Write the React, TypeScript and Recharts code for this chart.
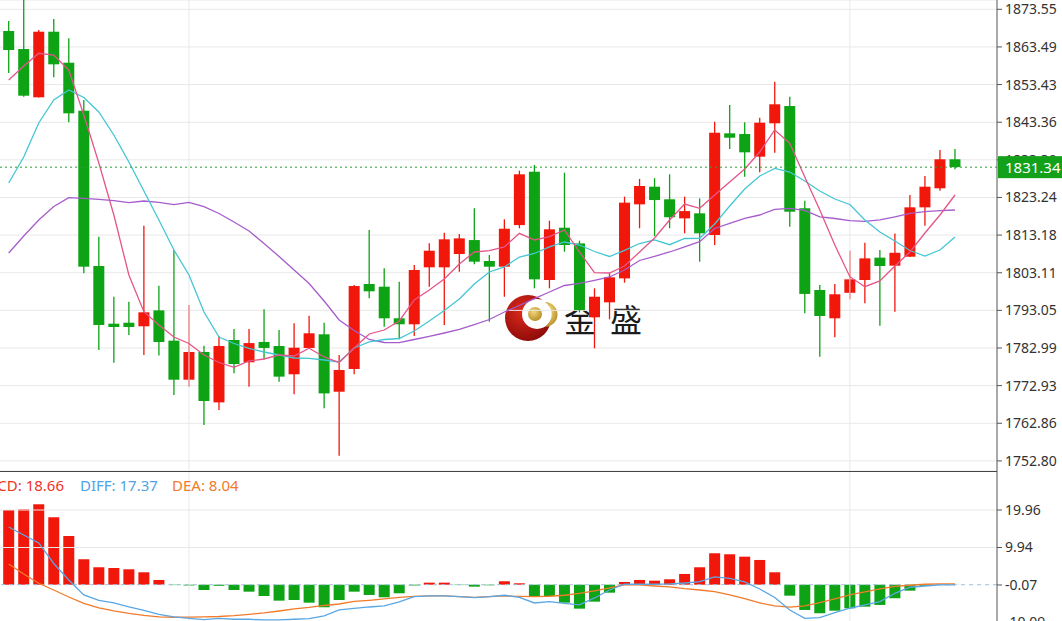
import React from "react";
import { ComposedChart, Bar, Line, XAxis, YAxis, CartesianGrid, ReferenceLine, Cell } from "recharts";

const RED = "#f2170b";
const GREEN = "#0da315";
const FONT = "'Noto Sans', 'DejaVu Sans', sans-serif";

// candles
const OPEN = [1867.75, 1862.93, 1850.02, 1867.56, 1859.27, 1846.44, 1804.91, 1789.49, 1789.75, 1788.79, 1793.05, 1784.95, 1774.51, 1781.92, 1768.45, 1785.13, 1779.17, 1784.6, 1783.52, 1775.96, 1783.0, 1786.65, 1771.3, 1777.38, 1800.1, 1799.38, 1790.93, 1789.33, 1804.56, 1804.56, 1808.12, 1811.85, 1806.25, 1804.73, 1815.85, 1830.12, 1801.17, 1815.15, 1810.95, 1791.2, 1795.2, 1801.6, 1821.4, 1826.12, 1822.75, 1817.65, 1819.0, 1813.2, 1840.39, 1840.2, 1834.15, 1843.07, 1847.69, 1820.35, 1798.5, 1790.93, 1797.75, 1801.17, 1807.15, 1805.0, 1807.4, 1820.6, 1825.69, 1833.45];
const HIGH = [1870.42, 1876.6, 1868.0, 1870.96, 1865.8, 1849.3, 1812.75, 1796.7, 1795.37, 1815.69, 1799.65, 1809.19, 1794.49, 1783.6, 1786.2, 1788.07, 1788.07, 1793.33, 1787.8, 1789.6, 1791.6, 1789.75, 1781.12, 1799.83, 1814.55, 1804.3, 1800.7, 1805.18, 1810.98, 1813.8, 1813.5, 1820.35, 1807.85, 1817.4, 1830.4, 1831.92, 1817.03, 1829.85, 1811.7, 1798.95, 1803.0, 1823.45, 1828.2, 1828.4, 1829.43, 1823.45, 1823.0, 1843.5, 1847.95, 1843.34, 1844.57, 1854.19, 1850.18, 1822.35, 1799.83, 1800.1, 1809.0, 1811.15, 1809.19, 1813.6, 1823.9, 1828.95, 1835.95, 1836.2];
const LOW = [1856.52, 1850.18, 1849.97, 1855.37, 1843.34, 1802.96, 1782.45, 1779.05, 1786.46, 1781.12, 1781.0, 1770.42, 1772.64, 1762.4, 1766.4, 1776.23, 1772.64, 1779.97, 1773.98, 1770.6, 1782.9, 1766.87, 1754.2, 1776.0, 1796.28, 1788.7, 1785.3, 1786.2, 1799.38, 1789.14, 1803.4, 1805.4, 1790.0, 1796.7, 1815.0, 1798.95, 1798.95, 1808.74, 1792.5, 1782.9, 1790.65, 1800.45, 1815.0, 1812.9, 1815.0, 1813.65, 1806.06, 1810.5, 1836.2, 1828.79, 1830.0, 1835.2, 1815.42, 1792.25, 1780.65, 1785.85, 1796.0, 1794.95, 1788.95, 1792.65, 1807.3, 1815.65, 1825.05, 1830.77];
const CLOSE = [1862.67, 1850.45, 1867.56, 1858.84, 1845.74, 1804.73, 1789.14, 1788.6, 1788.6, 1792.53, 1784.59, 1774.51, 1781.92, 1768.82, 1783.52, 1778.7, 1784.3, 1783.0, 1775.33, 1783.07, 1786.92, 1770.85, 1777.1, 1799.56, 1798.15, 1790.93, 1789.33, 1803.85, 1809.0, 1812.05, 1812.3, 1806.07, 1804.73, 1814.88, 1829.43, 1801.35, 1814.73, 1810.53, 1793.15, 1796.7, 1801.89, 1821.85, 1826.3, 1822.55, 1817.95, 1819.6, 1813.65, 1840.55, 1839.22, 1835.31, 1843.23, 1848.15, 1819.43, 1797.45, 1791.55, 1797.35, 1801.35, 1806.95, 1804.91, 1808.45, 1820.6, 1826.12, 1833.45, 1831.34];

// moving averages
const MA5 = [1854.65, 1858.39, 1861.79, 1861.33, 1857.32, 1845.29, 1832.46, 1818.55, 1802.51, 1792.7, 1789.14, 1785.93, 1784.19, 1781.12, 1779.11, 1777.83, 1779.52, 1780.05, 1781.12, 1780.85, 1782.91, 1780.59, 1779.11, 1782.99, 1786.74, 1787.8, 1790.21, 1795.83, 1798.5, 1801.44, 1805.45, 1808.66, 1809.01, 1810.0, 1813.66, 1811.87, 1812.75, 1814.54, 1808.66, 1803.13, 1803.05, 1804.92, 1808.66, 1812.4, 1817.22, 1821.49, 1820.34, 1823.9, 1827.38, 1830.85, 1835.4, 1841.28, 1837.72, 1828.71, 1819.89, 1810.53, 1802.06, 1799.38, 1800.91, 1804.92, 1808.66, 1813.74, 1818.55, 1823.9];
const MA10 = [1827.11, 1834.06, 1843.15, 1849.3, 1851.98, 1849.97, 1846.09, 1839.94, 1832.72, 1824.97, 1817.22, 1809.19, 1802.51, 1792.62, 1785.93, 1784.19, 1782.86, 1781.92, 1781.12, 1780.32, 1780.24, 1779.78, 1779.25, 1782.99, 1784.6, 1785.26, 1785.53, 1787.54, 1790.21, 1793.02, 1796.09, 1800.1, 1803.31, 1804.65, 1807.32, 1808.26, 1810.0, 1811.33, 1810.53, 1808.79, 1807.46, 1809.11, 1810.93, 1811.87, 1810.61, 1812.27, 1812.32, 1816.15, 1820.96, 1825.51, 1828.98, 1830.99, 1830.05, 1827.64, 1824.97, 1822.83, 1821.36, 1817.22, 1814.01, 1811.6, 1809.06, 1807.59, 1809.19, 1812.67];
const MA20 = [1808.39, 1812.94, 1817.22, 1820.83, 1823.18, 1823.02, 1822.75, 1822.38, 1821.84, 1822.3, 1821.95, 1821.31, 1821.95, 1820.77, 1818.95, 1816.68, 1814.27, 1810.93, 1807.46, 1803.85, 1800.24, 1795.56, 1790.48, 1787.67, 1785.26, 1784.46, 1784.41, 1785.26, 1786.12, 1787.0, 1787.94, 1789.27, 1790.61, 1792.62, 1794.36, 1796.17, 1797.97, 1799.7, 1800.24, 1801.09, 1801.98, 1803.85, 1806.39, 1807.51, 1808.66, 1810.0, 1811.41, 1814.94, 1816.33, 1817.67, 1818.55, 1820.08, 1820.34, 1819.81, 1818.07, 1817.62, 1817.03, 1816.87, 1817.22, 1818.02, 1819.01, 1819.44, 1819.7, 1819.89];

// MACD panel
const MACD = [19.97, 20.15, 21.49, 18.02, 13.02, 6.8, 4.66, 4.47, 4.12, 3.32, 1.27, -0.1, -0.2, -1.41, -0.3, -1.41, -1.86, -3.01, -4.26, -4.08, -4.8, -6.03, -4.08, -1.86, -2.74, -3.36, -2.29, -0.2, 0.55, 0.55, -0.1, -0.52, -0.15, 0.92, 0.38, -3.2, -3.01, -4.8, -6.4, -4.53, -2.13, 0.73, 1.27, 1.08, 1.45, 2.87, 4.66, 8.4, 8.13, 7.49, 6.61, 3.32, -2.93, -6.75, -7.63, -6.94, -6.3, -5.87, -5.41, -3.62, -1.59, -0.3, -0.05, 0.02];
const DIFF = [15.43, 13.29, 11.15, 5.67, 1.27, -2.74, -4.21, -4.88, -5.95, -6.88, -7.95, -8.62, -9.02, -9.34, -9.02, -9.23, -9.23, -9.42, -9.42, -9.23, -9.07, -8.35, -6.75, -6.35, -5.95, -5.68, -4.61, -3.2, -3.01, -3.01, -3.2, -3.46, -3.2, -2.82, -3.36, -4.88, -4.53, -4.96, -5.41, -3.54, -1.41, 0.12, 0.12, 0.12, 0.2, 0.46, 0.81, 2.07, 1.67, 0.73, -1.14, -3.41, -6.75, -8.97, -8.81, -7.47, -6.29, -5.41, -4.53, -2.29, -0.68, -0.34, -0.07, -0.07];
const DEA = [5.54, 2.87, 0.38, -1.41, -3.28, -5.01, -6.21, -7.02, -7.68, -8.22, -8.62, -8.7, -8.67, -8.62, -8.49, -8.25, -7.92, -7.55, -7.02, -6.48, -6.08, -5.55, -5.15, -4.48, -4.16, -3.81, -3.41, -3.14, -3.01, -3.01, -3.2, -3.36, -3.2, -3.01, -3.14, -3.2, -3.09, -2.82, -2.29, -1.67, -0.87, -0.07, -0.07, -0.34, -0.6, -1.06, -1.41, -1.86, -2.74, -3.73, -4.88, -5.68, -6.0, -5.68, -4.8, -3.81, -2.74, -1.94, -1.14, -0.47, -0.15, 0.12, 0.2, 0.2];

const PRICE_TICKS = [1752.8, 1762.86, 1772.93, 1782.99, 1793.05, 1803.11, 1813.18, 1823.24, 1833.3, 1843.36, 1853.43, 1863.49, 1873.55];
const MACD_TICKS = [-10.09, -0.07, 9.94, 19.96];
const LAST_PRICE = 1831.34;
const LEGEND = { macd: 18.66, diff: 17.37, dea: 8.04 };

const PRICE_DOMAIN = [1750.1, 1876.04];
const MAIN_H = 471;

const candles = OPEN.map((o, i) => ({
  i,
  open: o,
  high: HIGH[i],
  low: LOW[i],
  close: CLOSE[i],
  range: [LOW[i], HIGH[i]],
  ma5: MA5[i],
  ma10: MA10[i],
  ma20: MA20[i],
}));

const macdData = MACD.map((m, i) => ({ i, macd: m, diff: DIFF[i], dea: DEA[i] }));

const Candle = (props: any) => {
  const { x, y, width, height, payload } = props;
  if (!payload) return null;
  const { open, close, high, low } = payload;
  const color = close >= open ? RED : GREEN;
  const top = Math.min(y, y + height);
  const h = Math.abs(height);
  const py = (v: number) => top + ((high - v) / (high - low)) * h;
  const cx = x + width / 2;
  const b1 = py(Math.max(open, close));
  const b2 = py(Math.min(open, close));
  return (
    <g>
      <line x1={cx} x2={cx} y1={top} y2={top + h} stroke={color} strokeWidth={1.3} />
      <rect x={x} y={b1} width={width} height={Math.max(b2 - b1, 1.5)} fill={color} />
    </g>
  );
};

const axisTick = { fontSize: 14, fill: "#333", fontFamily: FONT };
const xPad = { left: 1.2, right: 34.5 };
const lastY = ((PRICE_DOMAIN[1] - LAST_PRICE) / (PRICE_DOMAIN[1] - PRICE_DOMAIN[0])) * MAIN_H;

export default function App() {
  return (
    <div
      style={{
        position: "fixed",
        left: 0,
        top: 0,
        width: 1062,
        height: 621,
        overflow: "hidden",
        background: "#fff",
        fontFamily: FONT,
      }}
    >
      {/* watermark */}
      <svg width={1062} height={621} style={{ position: "absolute", left: 0, top: 0 }}>
        <defs>
          <radialGradient id="logoRed" cx="40%" cy="35%" r="70%">
            <stop offset="0%" stopColor="#e02a1c" />
            <stop offset="100%" stopColor="#8a0a08" />
          </radialGradient>
          <radialGradient id="logoGold" cx="40%" cy="35%" r="70%">
            <stop offset="0%" stopColor="#f2d77a" />
            <stop offset="100%" stopColor="#b48a25" />
          </radialGradient>
        </defs>
        <circle cx={528} cy={318} r={23} fill="url(#logoRed)" />
        <circle cx={537} cy={314} r={15} fill="#fff" />
        <path d="M 545 302 A 15 15 0 0 1 545 327 A 12 12 0 0 0 545 302 Z" fill="url(#logoGold)" />
        <circle cx={535} cy={314} r={7} fill="url(#logoGold)" />
        <text x={564} y={332} fontSize={32} fill="#1b1b1b" fontFamily="'Noto Sans CJK SC', sans-serif">金</text>
        <text x={610} y={332} fontSize={32} fill="#1b1b1b" fontFamily="'Noto Sans CJK SC', sans-serif">盛</text>
      </svg>

      <div style={{ position: "absolute", left: 0, top: 0 }}>
        <ComposedChart width={1062} height={MAIN_H} data={candles} margin={{ top: 0, right: 0, bottom: 0, left: 0 }}>
          <CartesianGrid vertical={false} stroke="#e8e8e8" />
          <XAxis dataKey="i" hide padding={xPad} />
          <YAxis
            orientation="right"
            width={65}
            domain={PRICE_DOMAIN}
            ticks={PRICE_TICKS}
            allowDataOverflow
            tickFormatter={(v: number) => v.toFixed(2)}
            tick={axisTick}
            tickSize={5}
            tickMargin={3}
            axisLine={{ stroke: "#555" }}
            tickLine={{ stroke: "#555" }}
          />
          <ReferenceLine x={12} stroke="#e3ebf1" />
          <ReferenceLine x={56} stroke="#e3ebf1" />
          <Bar dataKey="range" barSize={11} shape={<Candle />} isAnimationActive={false} />
          <Line dataKey="ma20" stroke="#a65ccb" strokeWidth={1.3} dot={false} activeDot={false} isAnimationActive={false} />
          <Line dataKey="ma10" stroke="#45c6d4" strokeWidth={1.3} dot={false} activeDot={false} isAnimationActive={false} />
          <Line dataKey="ma5" stroke="#e4558a" strokeWidth={1.3} dot={false} activeDot={false} isAnimationActive={false} />
          <ReferenceLine y={LAST_PRICE} stroke="#2f9e34" strokeDasharray="2 3" />
        </ComposedChart>
      </div>

      <div style={{ position: "absolute", left: 0, top: MAIN_H }}>
        <ComposedChart width={1062} height={170} data={macdData} margin={{ top: 0, right: 0, bottom: 0, left: 0 }}>
          <XAxis dataKey="i" hide padding={xPad} />
          <YAxis
            orientation="right"
            width={65}
            domain={[-15.04, 30.38]}
            ticks={MACD_TICKS}
            allowDataOverflow
            tickFormatter={(v: number) => v.toFixed(2)}
            tick={axisTick}
            tickSize={5}
            tickMargin={3}
            axisLine={{ stroke: "#555" }}
            tickLine={{ stroke: "#555" }}
          />
          <ReferenceLine y={9.94} stroke="#e8e8e8" />
          <ReferenceLine y={19.96} stroke="#e8e8e8" />
          <ReferenceLine x={12} stroke="#e3ebf1" />
          <ReferenceLine x={56} stroke="#e3ebf1" />
          <ReferenceLine y={0} stroke="#9fc3dc" strokeDasharray="4 4" />
          <Bar dataKey="macd" barSize={11} isAnimationActive={false}>
            {macdData.map((d) => (
              <Cell key={d.i} fill={d.macd >= 0 ? RED : GREEN} />
            ))}
          </Bar>
          <Line dataKey="dea" stroke="#f07b2b" strokeWidth={1.3} dot={false} activeDot={false} isAnimationActive={false} />
          <Line dataKey="diff" stroke="#5aa7e4" strokeWidth={1.3} dot={false} activeDot={false} isAnimationActive={false} />
        </ComposedChart>
      </div>

      {/* panel separator, last-price tag and MACD legend */}
      <svg width={1062} height={621} style={{ position: "absolute", left: 0, top: 0, pointerEvents: "none" }}>
        <line x1={0} x2={997} y1={MAIN_H + 0.5} y2={MAIN_H + 0.5} stroke="#444" strokeWidth={1} />
        <rect x={998} y={lastY - 11} width={64} height={22} fill="#14a11a" />
        <text x={1005} y={lastY} dy="0.36em" fontSize={15} fill="#fff" fontFamily={FONT}>
          {LAST_PRICE.toFixed(2)}
        </text>
        <text x={64} y={486} dy="0.36em" textAnchor="end" fontSize={15} fill="#ef3326" fontFamily={FONT}>
          {`MACD: ${LEGEND.macd.toFixed(2)}`}
        </text>
        <text x={80} y={486} dy="0.36em" fontSize={15} fill="#4fa3e6" fontFamily={FONT}>
          {`DIFF: ${LEGEND.diff.toFixed(2)}`}
        </text>
        <text x={172} y={486} dy="0.36em" fontSize={15} fill="#f07b2b" fontFamily={FONT}>
          {`DEA: ${LEGEND.dea.toFixed(2)}`}
        </text>
      </svg>
    </div>
  );
}
